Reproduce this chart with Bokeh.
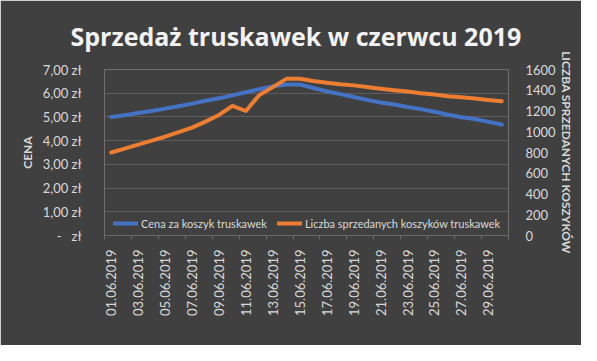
from math import pi
from bokeh.plotting import figure
from bokeh.models import Range1d, LinearAxis, FixedTicker, Legend, LegendItem
from bokeh.embed import file_html
from bokeh.resources import INLINE

dates = ["01.06.2019", "02.06.2019", "03.06.2019", "04.06.2019", "05.06.2019",
         "06.06.2019", "07.06.2019", "08.06.2019", "09.06.2019", "10.06.2019",
         "11.06.2019", "12.06.2019", "13.06.2019", "14.06.2019", "15.06.2019",
         "16.06.2019", "17.06.2019", "18.06.2019", "19.06.2019", "20.06.2019",
         "21.06.2019", "22.06.2019", "23.06.2019", "24.06.2019", "25.06.2019",
         "26.06.2019", "27.06.2019", "28.06.2019", "29.06.2019", "30.06.2019"]

price = [5.00, 5.07, 5.17, 5.25, 5.35, 5.45, 5.56, 5.68, 5.79, 5.91,
         6.04, 6.17, 6.29, 6.37, 6.37, 6.22, 6.08, 5.96, 5.84, 5.72,
         5.61, 5.52, 5.42, 5.33, 5.22, 5.09, 4.99, 4.91, 4.79, 4.68]

baskets = [800, 838, 876, 914, 952, 996, 1040, 1098, 1162, 1250,
           1200, 1355, 1430, 1510, 1510, 1490, 1473, 1457, 1447, 1431,
           1415, 1400, 1387, 1371, 1358, 1343, 1333, 1320, 1305, 1295]

price_ticks = [0, 1, 2, 3, 4, 5, 6, 7]
price_tick_labels = ["-\u00a0\u00a0\u00a0zł", "1,00 zł", "2,00 zł", "3,00 zł",
                     "4,00 zł", "5,00 zł", "6,00 zł", "7,00 zł"]
basket_ticks = [0, 200, 400, 600, 800, 1000, 1200, 1400, 1600]

title_text = "Sprzedaż truskawek w czerwcu 2019"
left_title = "CENA"
right_title = "LICZBA SPRZEDANYCH KOSZYKÓW"
series_names = ["Cena za koszyk truskawek", "Liczba sprzedanych koszyków truskawek"]

x = list(range(len(dates)))

BG = "#404040"
TXT = "#d9d9d9"
FONT = "Lato"

p = figure(width=581, height=345, output_backend="svg", toolbar_location=None,
           x_range=Range1d(-0.5, len(dates) - 0.5),
           y_range=Range1d(price_ticks[0], price_ticks[-1]),
           min_border_left=104, min_border_right=73, min_border_top=67,
           min_border_bottom=110,
           background_fill_color=BG, border_fill_color=BG,
           outline_line_color=None)
p.extra_y_ranges = {"cnt": Range1d(basket_ticks[0], basket_ticks[-1])}

p.title.text = title_text
p.title.align = "left"
p.title.offset = -34
p.title.text_font = "Open Sans"
p.title.text_font_size = "25px"
p.title.text_font_style = "bold"
p.title.text_color = "#f2f2f2"
p.title.standoff = 33

# x axis
xa = p.xaxis[0]
xa.ticker = FixedTicker(ticks=x[::2],
                        minor_ticks=[i - 0.5 for i in x[::2]] + [x[-1] + 0.5])
xa.major_label_overrides = {i: dates[i] for i in x[::2]}
xa.major_label_orientation = pi / 2
xa.major_tick_out = 0
xa.major_tick_in = 0
xa.minor_tick_out = 4
xa.minor_tick_in = 0
xa.minor_tick_line_color = "#6a6a6a"
xa.axis_line_color = "#6a6a6a"
xa.major_label_standoff = 10
xa.major_label_text_color = TXT
xa.major_label_text_font = FONT
xa.major_label_text_font_size = "13px"

# left axis
ya = p.yaxis[0]
ya.ticker = FixedTicker(ticks=price_ticks)
ya.major_label_overrides = {t: l for t, l in zip(price_ticks, price_tick_labels)}
ya.axis_line_color = None
ya.major_tick_line_color = None
ya.minor_tick_line_color = None
ya.major_label_standoff = 17
ya.major_label_text_color = TXT
ya.major_label_text_font = FONT
ya.major_label_text_font_size = "13px"
ya.axis_label = left_title
ya.axis_label_text_color = TXT
ya.axis_label_text_font = FONT
ya.axis_label_text_font_size = "12px"
ya.axis_label_text_font_style = "bold"
ya.axis_label_standoff = 5

# right axis
ra = LinearAxis(y_range_name="cnt", ticker=FixedTicker(ticks=basket_ticks))
ra.axis_line_color = None
ra.major_tick_line_color = None
ra.minor_tick_line_color = None
ra.major_label_standoff = 11
ra.major_label_text_color = TXT
ra.major_label_text_font = FONT
ra.major_label_text_font_size = "13px"
ra.axis_label = right_title
ra.axis_label_text_color = TXT
ra.axis_label_text_font = FONT
ra.axis_label_text_font_size = "12px"
ra.axis_label_text_font_style = "bold"
ra.axis_label_standoff = 0
p.add_layout(ra, "right")

p.xgrid.visible = False
p.ygrid.grid_line_color = "#5e5e5e"
p.ygrid.ticker = FixedTicker(ticks=price_ticks[1:])

r1 = p.line(x, price, line_color="#4472C4", line_width=4,
            line_cap="round", line_join="round")
r2 = p.line(x, baskets, y_range_name="cnt", line_color="#ED7D31", line_width=4,
            line_cap="round", line_join="round")

legend = Legend(items=[LegendItem(label=series_names[0], renderers=[r1]),
                       LegendItem(label=series_names[1], renderers=[r2])],
                orientation="horizontal", location=(9, 5),
                background_fill_alpha=0, border_line_alpha=0,
                label_text_color=TXT, label_text_font=FONT,
                label_text_font_size="11px", glyph_width=25, glyph_height=14,
                label_height=14, label_standoff=3, spacing=10, padding=0,
                margin=0)
p.add_layout(legend, "center")

open("out.html", "w").write(file_html(p, INLINE))
